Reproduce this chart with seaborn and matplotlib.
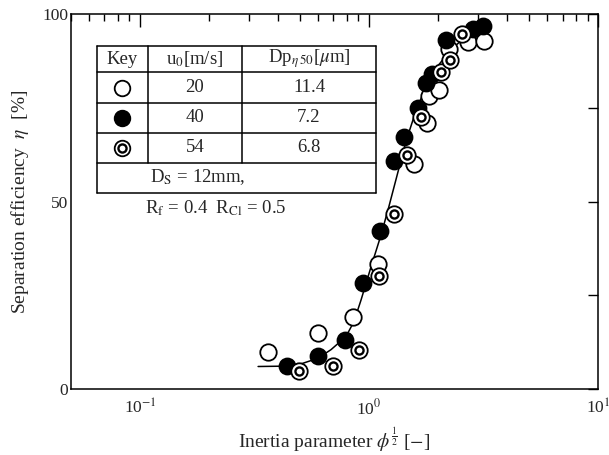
import numpy as np
import pandas as pd
import matplotlib
matplotlib.use("Agg")
import matplotlib.pyplot as plt
import seaborn as sns
from matplotlib.ticker import LogLocator, NullFormatter, FixedLocator

# ---- data ----
open_x = [0.361, 0.601, 0.849, 1.09, 1.58, 1.80, 1.83, 2.03, 2.24, 2.70, 3.19]
open_y = [9.9, 15.0, 19.3, 33.3, 60.0, 70.9, 78.1, 79.7, 90.8, 92.6, 92.9]

filled_x = [0.437, 0.597, 0.789, 0.945, 1.12, 1.28, 1.42, 1.63, 1.77, 1.88, 2.17, 2.86, 3.15]
filled_y = [6.1, 8.8, 13.2, 28.3, 42.2, 60.8, 67.3, 75.0, 81.7, 84.0, 93.2, 96.0, 96.7]

double_x = [0.496, 0.698, 0.902, 1.11, 1.29, 1.47, 1.69, 2.07, 2.26, 2.54]
double_y = [4.9, 6.1, 10.4, 30.2, 46.7, 62.5, 72.5, 84.5, 87.7, 94.6]

curve_x = [0.328, 0.434, 0.505, 0.599, 0.683, 0.794, 0.86, 0.923, 1.02, 1.128,
           1.22, 1.31, 1.45, 1.60, 1.77, 1.96, 2.28, 2.65, 3.08]
curve_y = [6.0, 6.1, 6.7, 8.2, 10.5, 14.0, 18.0, 23.7, 32.5, 41.0,
           48.5, 55.7, 66.0, 74.0, 80.5, 85.5, 90.5, 94.0, 96.0]

key_speed = ["20", "40", "54"]
key_dp = ["11.4", "7.2", "6.8"]
xtick_vals = [0.1, 1, 10]
xtick_labels = [r"10$^{-1}$", r"10$^{0}$", r"10$^{1}$"]
ytick_vals = [0, 50, 100]
ytick_labels = ["0", "50", "100"]

# ---- style ----
sns.set_style("white")
plt.rcParams["font.family"] = ["Liberation Serif", "DejaVu Serif"]
plt.rcParams["mathtext.fontset"] = "stix"

W, H = 609, 455
fig = plt.figure(figsize=(W / 100, H / 100), dpi=100)
L, R, T, B = 71, 598, 14, 389
ax = fig.add_axes([L / W, 1 - B / H, (R - L) / W, (B - T) / H])

df_curve = pd.DataFrame({"x": curve_x, "y": curve_y})
sns.lineplot(data=df_curve, x="x", y="y", ax=ax, color="black", lw=1.1,
             sort=False, zorder=2)

S_OUT = 140
S_IN = 34
LW = 1.3
sns.scatterplot(x=open_x, y=open_y, ax=ax, s=S_OUT, facecolor="white",
                edgecolor="black", linewidth=LW, zorder=3)
sns.scatterplot(x=filled_x, y=filled_y, ax=ax, s=S_OUT * 0.95, facecolor="black",
                edgecolor="black", linewidth=LW, zorder=4)
sns.scatterplot(x=double_x, y=double_y, ax=ax, s=S_OUT, facecolor="white",
                edgecolor="black", linewidth=LW, zorder=5)
sns.scatterplot(x=double_x, y=double_y, ax=ax, s=S_IN, facecolor="white",
                edgecolor="black", linewidth=LW * 1.3, zorder=6)

ax.set_xscale("log")
ax.set_xlim(0.05, 10)
ax.set_ylim(0, 100)

ax.set_xticks(xtick_vals)
ax.set_xticklabels(xtick_labels, fontsize=12.5)
ax.xaxis.set_minor_locator(LogLocator(base=10, subs=np.arange(2, 10)))
ax.xaxis.set_minor_formatter(NullFormatter())
ax.set_yticks(ytick_vals)
ax.set_yticklabels(ytick_labels, fontsize=12.5)
ax.yaxis.set_minor_locator(FixedLocator([25, 75]))

ax.tick_params(axis="both", which="both", direction="in", top=True, right=True,
               color="black", width=1.0)
ax.tick_params(axis="x", which="major", length=9, pad=7)
ax.tick_params(axis="x", which="minor", length=5)
ax.tick_params(axis="y", which="major", length=7, pad=2)
ax.tick_params(axis="y", which="minor", length=7)
for sp in ax.spines.values():
    sp.set_visible(True)
    sp.set_color("black")
    sp.set_linewidth(1.1)

ax.set_xlabel(r"Inertia parameter $\phi^{\frac{1}{2}}$ [$-$]", fontsize=14, labelpad=5)
ax.set_ylabel(r"Separation efficiency  $\eta$  [%]", fontsize=14, labelpad=8)

# ---- key table (figure pixel coordinates) ----
def fx(px):
    return px / W

def fy(py):
    return 1 - py / H

def hline(y, x0, x1):
    fig.add_artist(plt.Line2D([fx(x0), fx(x1)], [fy(y), fy(y)], color="black",
                              lw=1.1, transform=fig.transFigure))

def vline(x, y0, y1):
    fig.add_artist(plt.Line2D([fx(x), fx(x)], [fy(y0), fy(y1)], color="black",
                              lw=1.1, transform=fig.transFigure))

tl, tr = 97, 376
c1, c2 = 148, 242
rows = [46, 72, 103, 133, 163, 193]
for y in rows:
    hline(y, tl, tr)
vline(tl, rows[0], rows[-1])
vline(tr, rows[0], rows[-1])
vline(c1, rows[0], rows[4])
vline(c2, rows[0], rows[4])

fs = 13.5
def txt(px, py, s, ha="center", **kw):
    fig.text(fx(px), fy(py), s, ha=ha, va="center", fontsize=fs, **kw)

txt(122, 59, "Key")
txt(195, 59, r"u$_0$[m/s]")
txt(309, 59, r"Dp$_{\eta\,50}$[$\mu$m]")
row_y = [88, 118, 148]
for yy, sp_, dp in zip(row_y, key_speed, key_dp):
    txt(195, yy, sp_)
    txt(309, yy, dp)

mk_ax = fig.add_axes([0, 0, 1, 1], facecolor="none")
mk_ax.set_xlim(0, W)
mk_ax.set_ylim(H, 0)
mk_ax.axis("off")
mk_ax.scatter([122], [row_y[0]], s=S_OUT * 0.9, facecolor="white", edgecolor="black", linewidth=LW)
mk_ax.scatter([122], [row_y[1]], s=S_OUT * 0.9, facecolor="black", edgecolor="black", linewidth=LW)
mk_ax.scatter([122], [row_y[2]], s=S_OUT * 0.9, facecolor="white", edgecolor="black", linewidth=LW)
mk_ax.scatter([122], [row_y[2]], s=S_IN, facecolor="white", edgecolor="black", linewidth=LW * 1.3)

txt(150, 177, r"D$_{\mathrm{S}}$ = 12mm,", ha="left")
txt(145, 208, r"R$_{\mathrm{f}}$ = 0.4  R$_{\mathrm{Cl}}$ = 0.5", ha="left")

fig.savefig("out.png", dpi=100)
